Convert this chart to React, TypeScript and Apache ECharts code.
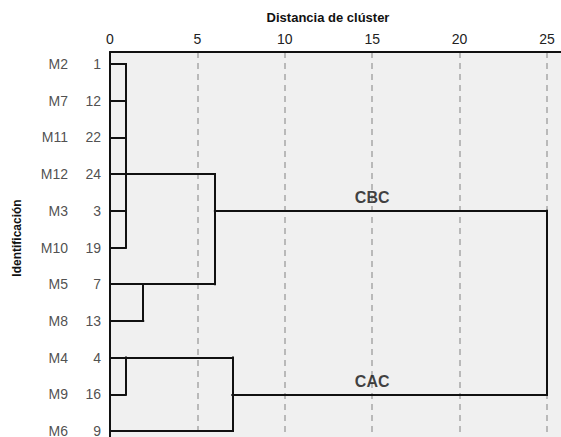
import { useEffect, useRef } from "react";
import * as echarts from "echarts";

// ---- data ----
const leafNames = ["M2", "M7", "M11", "M12", "M3", "M10", "M5", "M8", "M4", "M9", "M6"];
const leafIds = ["1", "12", "22", "24", "3", "19", "7", "13", "4", "16", "9"];
const xMin = 0;
const xMax = 25;
const xInterval = 5;
// merge heights (cluster distance): A, B, CBC, D, CAC, root
const mergeHeights = [0.9, 1.9, 6.0, 0.9, 7.0, 25];
const clusterNames = ["CBC", "CAC"];
const clusterLabelX = [15, 15];

type Node = number | { h: number; rep: number; children: Node[] };

const A: Node = { h: mergeHeights[0], rep: 3, children: [0, 1, 2, 3, 4, 5] };
const B: Node = { h: mergeHeights[1], rep: 6, children: [6, 7] };
const CBC: Node = { h: mergeHeights[2], rep: 4, children: [A, B] };
const D: Node = { h: mergeHeights[3], rep: 8, children: [8, 9] };
const CAC: Node = { h: mergeHeights[4], rep: 9, children: [D, 10] };
const root: Node = { h: mergeHeights[5], rep: 6.5, children: [CBC, CAC] };

function collect(node: Node, segs: number[][][]) {
  if (typeof node === "number") return;
  const reps = node.children.map((c) => (typeof c === "number" ? c : c.rep));
  segs.push([
    [node.h, Math.min(...reps)],
    [node.h, Math.max(...reps)],
  ]);
  node.children.forEach((c) => {
    const fromX = typeof c === "number" ? 0 : c.h;
    const r = typeof c === "number" ? c : c.rep;
    segs.push([
      [fromX, r],
      [node.h, r],
    ]);
    collect(c, segs);
  });
}

const FONT = 'Arial, "Liberation Sans", sans-serif';

export default function App() {
  const ref = useRef<HTMLDivElement>(null);
  useEffect(() => {
    if (!ref.current) return;
    const chart = echarts.init(ref.current, undefined, { renderer: "svg" });
    const segs: number[][][] = [];
    collect(root, segs);
    const clusterRows = [(CBC as any).rep, (CAC as any).rep];

    chart.setOption({
      animation: false,
      backgroundColor: "#ffffff",
      textStyle: { fontFamily: FONT },
      grid: {
        left: 110,
        right: 14,
        top: 52,
        bottom: 0,
        show: true,
        backgroundColor: "#f0f0f0",
        borderWidth: 0,
      },
      xAxis: {
        type: "value",
        position: "top",
        min: xMin,
        max: xMax,
        interval: xInterval,
        axisLine: { show: true, onZero: false, lineStyle: { color: "#111", width: 2 } },
        axisTick: { show: false },
        axisLabel: {
          color: "#222",
          fontSize: 14,
          fontFamily: FONT,
          margin: 6,
        },
        splitLine: {
          show: true,
          lineStyle: { color: "#a6a6a6", width: 1.5, type: [6, 5] },
        },
      },
      yAxis: {
        type: "value",
        inverse: true,
        min: -0.327,
        max: 10.163,
        axisLine: { show: true, onZero: false, lineStyle: { color: "#111", width: 2 } },
        axisTick: { show: false },
        axisLabel: { show: false },
        splitLine: { show: false },
      },
      graphic: [
        {
          type: "rect",
          z: -1,
          shape: { x: 547, y: 52, width: 14, height: 385 },
          style: { fill: "#f0f0f0" },
        },
        {
          type: "line",
          z: 10,
          shape: { x1: 546, y1: 52, x2: 561, y2: 52 },
          style: { stroke: "#111", lineWidth: 2 },
        },
        {
          type: "text",
          x: 328,
          y: 17,
          style: {
            text: "Distancia de clúster",
            font: `bold 13px ${FONT}`,
            fill: "#111",
            textAlign: "center",
            textVerticalAlign: "middle",
          },
        },
        {
          type: "text",
          x: 17,
          y: 238,
          rotation: Math.PI / 2,
          style: {
            text: "Identificación",
            font: `bold 12px ${FONT}`,
            fill: "#111",
            textAlign: "center",
            textVerticalAlign: "middle",
          },
        },
      ],
      series: [
        {
          type: "lines",
          coordinateSystem: "cartesian2d",
          polyline: false,
          silent: true,
          lineStyle: { color: "#111", width: 2, opacity: 1, cap: "square" },
          data: segs.map((s) => ({ coords: s })),
          z: 5,
        },
        {
          type: "scatter",
          symbolSize: 0,
          silent: true,
          data: leafNames.map((n, i) => ({ value: [0, i], name: n })),
          label: {
            show: true,
            position: "left",
            distance: 42,
            formatter: (p: any) => p.name,
            color: "#222",
            fontSize: 14,
            fontFamily: FONT,
          },
        },
        {
          type: "scatter",
          symbolSize: 0,
          silent: true,
          data: leafIds.map((n, i) => ({ value: [0, i], name: n })),
          label: {
            show: true,
            position: "left",
            distance: 9,
            formatter: (p: any) => p.name,
            color: "#222",
            fontSize: 14,
            fontFamily: FONT,
          },
        },
        {
          type: "scatter",
          symbolSize: 0,
          silent: true,
          z: 6,
          data: clusterNames.map((n, i) => ({ value: [clusterLabelX[i], clusterRows[i]], name: n })),
          label: {
            show: true,
            position: "top",
            distance: 5,
            formatter: (p: any) => p.name,
            color: "#111",
            fontSize: 16,
            fontWeight: "bold",
            fontFamily: FONT,
          },
        },
      ],
    });
    return () => chart.dispose();
  }, []);
  return (
    <div
      ref={ref}
      style={{ position: "fixed", left: 0, top: 0, width: 561, height: 437, background: "#fff" }}
    />
  );
}
